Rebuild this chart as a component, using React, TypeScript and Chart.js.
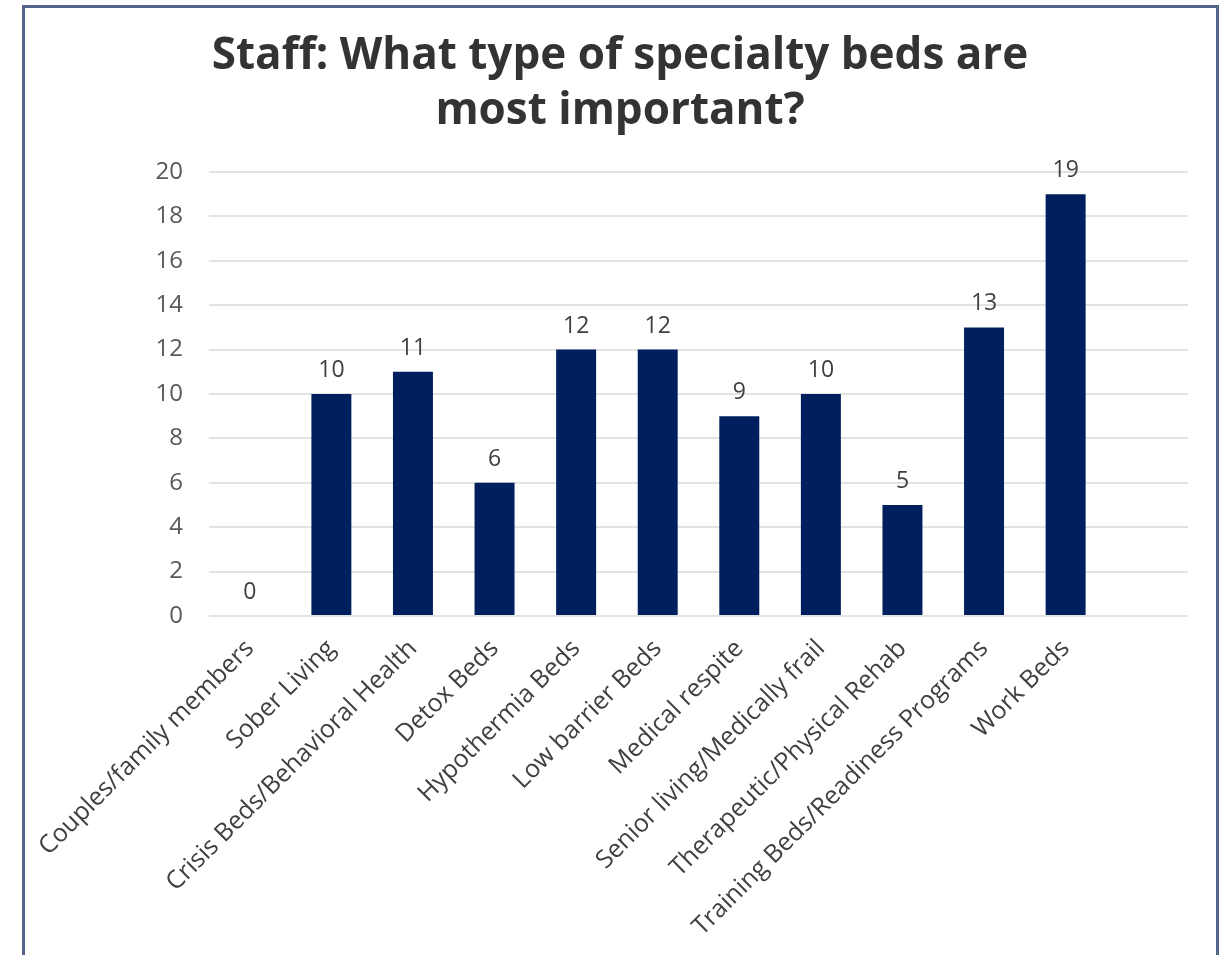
import React, { useEffect, useRef } from "react";
import { Chart, registerables } from "chart.js";

Chart.register(...registerables);

const titleLines = ["Staff: What type of specialty beds are", "most important?"];

const categories = [
  "Couples/family members",
  "Sober Living",
  "Crisis Beds/Behavioral Health",
  "Detox Beds",
  "Hypothermia Beds",
  "Low barrier Beds",
  "Medical respite",
  "Senior living/Medically frail",
  "Therapeutic/Physical Rehab",
  "Training Beds/Readiness Programs",
  "Work Beds",
  "",
];

const counts: (number | null)[] = [0, 10, 11, 6, 12, 12, 9, 10, 5, 13, 19, null];

const yMin = 0;
const yMax = 20;
const yStep = 2;

const FONT = "'Open Sans', 'DejaVu Sans', sans-serif";

export default function App() {
  const ref = useRef<HTMLCanvasElement | null>(null);

  useEffect(() => {
    const canvas = ref.current;
    if (!canvas) return;

    const titlePlugin = {
      id: "titleLines",
      afterDraw(chart: any) {
        const ctx = chart.ctx;
        ctx.save();
        ctx.fillStyle = "#333333";
        ctx.font = `bold 44px ${FONT}`;
        ctx.textAlign = "center";
        ctx.textBaseline = "middle";
        titleLines.forEach((t, i) => ctx.fillText(t, 620, 56 + i * 55));
        ctx.restore();
      },
    };

    const valueLabels = {
      id: "valueLabels",
      afterDatasetsDraw(chart: any) {
        const ctx = chart.ctx;
        const meta = chart.getDatasetMeta(0);
        ctx.save();
        ctx.fillStyle = "#404040";
        ctx.font = `23px ${FONT}`;
        ctx.textAlign = "center";
        ctx.textBaseline = "alphabetic";
        meta.data.forEach((el: any, i: number) => {
          const v = counts[i];
          if (v === null || v === undefined) return;
          ctx.fillText(String(v), el.x, el.y - 17);
        });
        ctx.restore();
      },
    };

    const chart = new Chart(canvas, {
      type: "bar",
      data: {
        labels: categories,
        datasets: [
          {
            data: counts,
            backgroundColor: "#001f5f",
            borderWidth: 0,
            categoryPercentage: 1,
            barPercentage: 0.49,
          },
        ],
      },
      options: {
        responsive: false,
        devicePixelRatio: 1,
        animation: false,
        layout: { padding: { left: 149, top: 172, right: 32, bottom: 0 } },
        plugins: {
          legend: { display: false },
          title: { display: false },
          tooltip: { enabled: false },
        },
        scales: {
          x: {
            grid: { display: false },
            border: { display: false },
            ticks: {
              color: "#404040",
              font: { family: FONT, size: 25 },
              minRotation: 45,
              maxRotation: 45,
              autoSkip: false,
              padding: 10,
            },
            afterFit(scale: any) {
              scale.height = 339;
              scale.paddingLeft = 0;
              scale.paddingRight = 0;
            },
          },
          y: {
            min: yMin,
            max: yMax,
            grid: { color: "#e3e3e3", lineWidth: 2, drawTicks: false },
            border: { display: false },
            ticks: {
              stepSize: yStep,
              color: "#595959",
              font: { family: FONT, size: 24 },
              padding: 26,
            },
            afterFit(scale: any) {
              scale.width = 60;
            },
          },
        },
      },
      plugins: [titlePlugin, valueLabels],
    });

    return () => chart.destroy();
  }, []);

  return (
    <div style={{ position: "absolute", left: 0, top: 0, width: 1220, height: 955, background: "#ffffff", overflow: "hidden" }}>
      <canvas ref={ref} width={1220} height={955} style={{ display: "block" }} />
      <div
        style={{
          position: "absolute",
          left: 22,
          top: 5,
          width: 1191,
          height: 1000,
          borderLeft: "3px solid #56638a",
          borderTop: "3px solid #56638a",
          borderRight: "3px solid #56638a",
          pointerEvents: "none",
        }}
      />
    </div>
  );
}
